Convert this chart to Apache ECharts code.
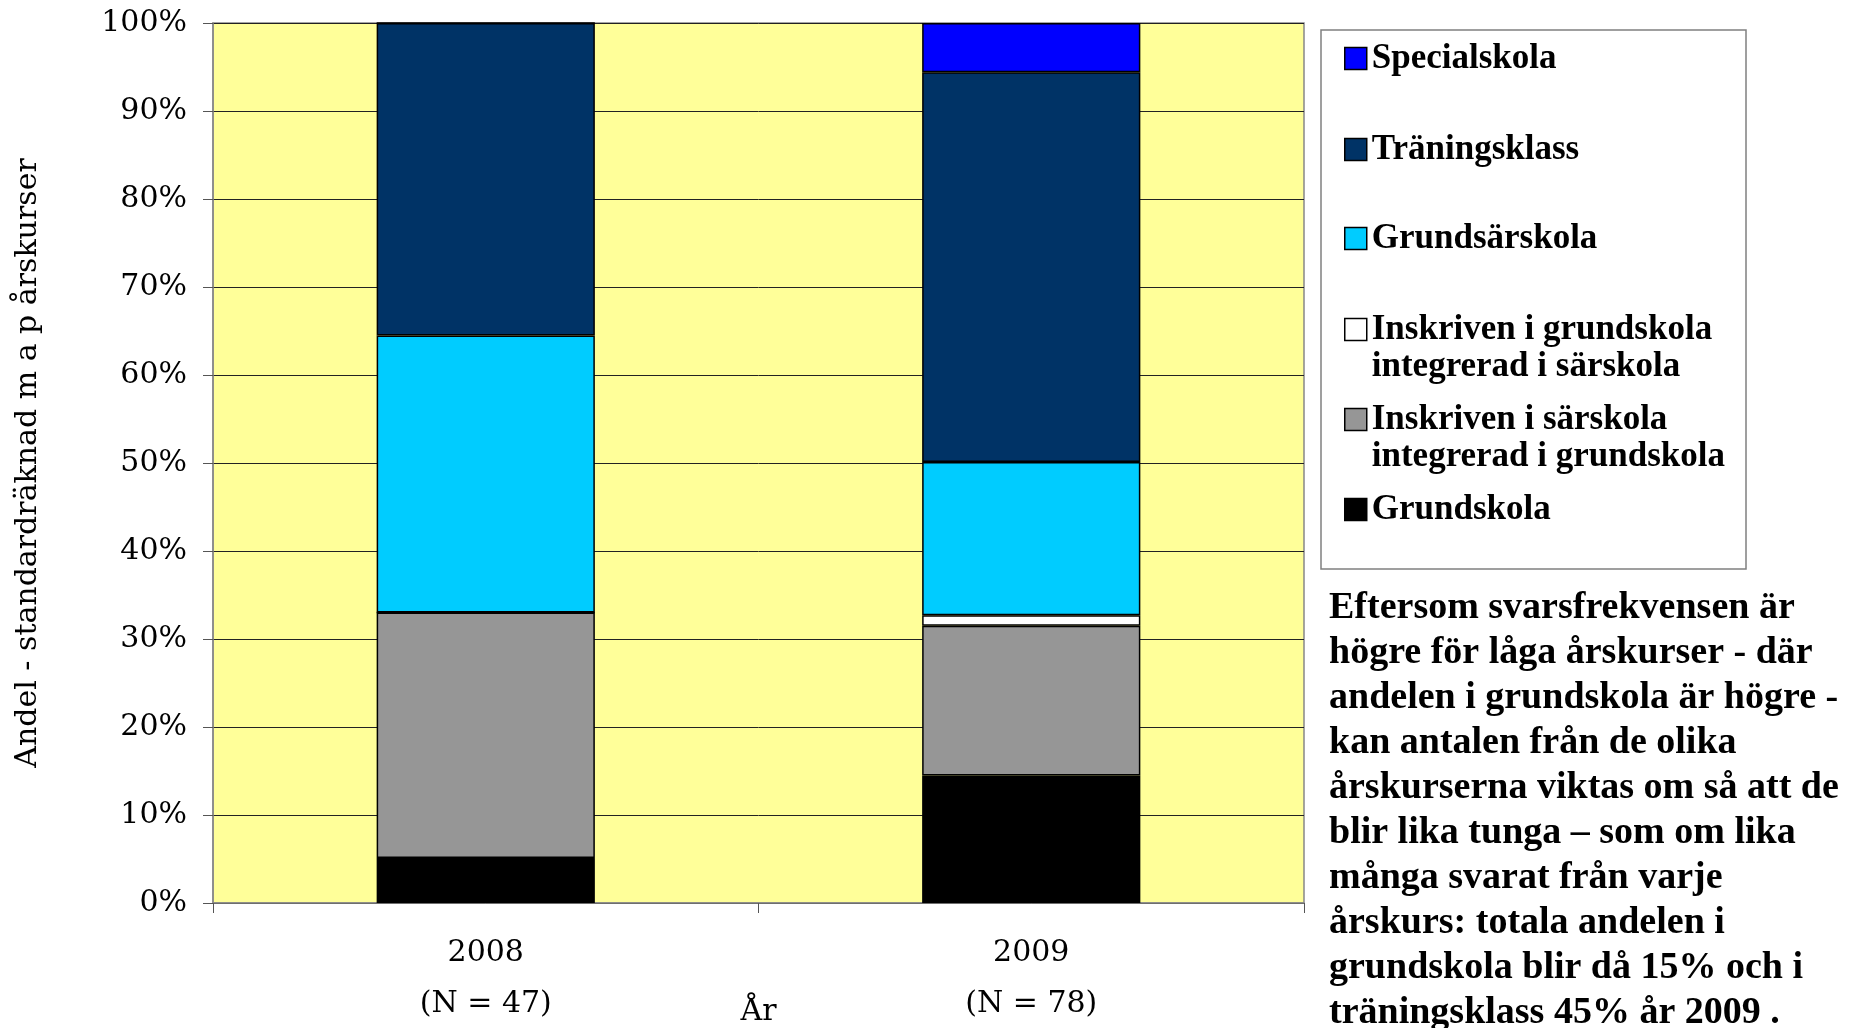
<!DOCTYPE html>
<html>
<head>
<meta charset="utf-8">
<script src="https://cdn.jsdelivr.net/npm/echarts@6/dist/echarts.min.js"></script>
<style>
html, body { margin: 0; padding: 0; background: #fff; }
#main { width: 1854px; height: 1028px; }
</style>
</head>
<body>
<div id="main"></div>
<script>
// andel (%) per år, staplat nerifrån och upp
var years = ['2008\n(N = 47)', '2009\n(N = 78)'];
var grundskola = [5.1, 14.5];
var inskrivenSarskola = [27.9, 17.0];
var inskrivenGrundskola = [0, 1.2];
var grundsarskola = [31.5, 17.4];
var traningsklass = [35.5, 44.3];
var specialskola = [0, 5.6];

var note = [
    'Eftersom svarsfrekvensen är',
    'högre för låga årskurser - där',
    'andelen i grundskola är högre -',
    'kan antalen från de olika',
    'årskurserna viktas om så att de',
    'blir lika tunga – som om lika',
    'många svarat från varje',
    'årskurs: totala andelen i',
    'grundskola blir då 15% och i',
    'träningsklass 45% år 2009 .'
];

var serif = 'DejaVu Serif';

function bar(name, data, color) {
    return {
        name: name,
        type: 'bar',
        stack: 'total',
        barWidth: '40%',
        data: data,
        itemStyle: { color: color, borderColor: '#000', borderWidth: 1.5 }
    };
}

// two-line entries get a blank first line so the box sits level with the first text line
function legendAt(name, top, twoLine) {
    return {
        data: [name],
        orient: 'vertical',
        left: 1344,
        top: top,
        padding: 0,
        icon: 'rect',
        itemWidth: 22,
        itemHeight: 22,
        itemStyle: { borderColor: '#000', borderWidth: 1.5 },
        selectedMode: false,
        formatter: function (n) {
            return twoLine ? ' \n' + n.replace(' integrerad', '\nintegrerad') : n;
        },
        textStyle: {
            fontFamily: 'Liberation Serif',
            fontWeight: 'bold',
            fontSize: 35,
            lineHeight: 37,
            color: '#000'
        }
    };
}

var chart = echarts.init(document.getElementById('main'));

option = {
    animation: false,
    backgroundColor: '#fff',
    grid: {
        left: 213, right: 550, top: 23, bottom: 125,
        outerBoundsMode: 'none',
        show: true,
        backgroundColor: '#FFFF99',
        borderColor: '#888',
        borderWidth: 1.5
    },
    legend: [
        legendAt('Specialskola', 40, false),
        legendAt('Träningsklass', 131, false),
        legendAt('Grundsärskola', 220, false),
        legendAt('Inskriven i grundskola integrerad i särskola', 274, true),
        legendAt('Inskriven i särskola integrerad i grundskola', 364, true),
        legendAt('Grundskola', 491, false)
    ],
    xAxis: {
        type: 'category',
        data: years,
        name: 'År',
        nameLocation: 'middle',
        nameGap: 94,
        nameMoveOverlap: false,
        nameTextStyle: { fontFamily: serif, fontSize: 30, color: '#000' },
        axisLine: { lineStyle: { color: '#888', width: 1.5 } },
        axisTick: { show: true, length: 10, lineStyle: { color: '#555' } },
        axisLabel: { fontFamily: serif, fontSize: 30, lineHeight: 51, margin: 25, color: '#000' }
    },
    yAxis: {
        type: 'value',
        min: 0,
        max: 100,
        interval: 10,
        name: 'Andel - standardräknad m a p årskurser',
        nameLocation: 'middle',
        nameGap: 170,
        nameTextStyle: { fontFamily: serif, fontSize: 30, color: '#000' },
        axisLine: { show: true, lineStyle: { color: '#888', width: 1.5 } },
        axisTick: { show: true, length: 10, lineStyle: { color: '#555' } },
        axisLabel: { formatter: '{value}%', fontFamily: serif, fontSize: 30, margin: 26, color: '#000' },
        splitLine: { lineStyle: { color: '#222', width: 1 } }
    },
    graphic: [
        {
            type: 'rect',
            z: 1,
            shape: { x: 1321, y: 30, width: 425, height: 539 },
            style: { fill: '#fff', stroke: '#808080', lineWidth: 1.5 }
        },
        {
            type: 'text',
            left: 1329,
            top: 586,
            style: {
                text: note.join('\n'),
                font: 'bold 38px "Liberation Serif"',
                lineHeight: 45,
                fill: '#000'
            }
        }
    ],
    series: [
        bar('Grundskola', grundskola, '#000000'),
        bar('Inskriven i särskola integrerad i grundskola', inskrivenSarskola, '#969696'),
        bar('Inskriven i grundskola integrerad i särskola', inskrivenGrundskola, '#FFFFFF'),
        bar('Grundsärskola', grundsarskola, '#00CCFF'),
        bar('Träningsklass', traningsklass, '#003366'),
        bar('Specialskola', specialskola, '#0000FF')
    ]
};

chart.setOption(option);
</script>
</body>
</html>
